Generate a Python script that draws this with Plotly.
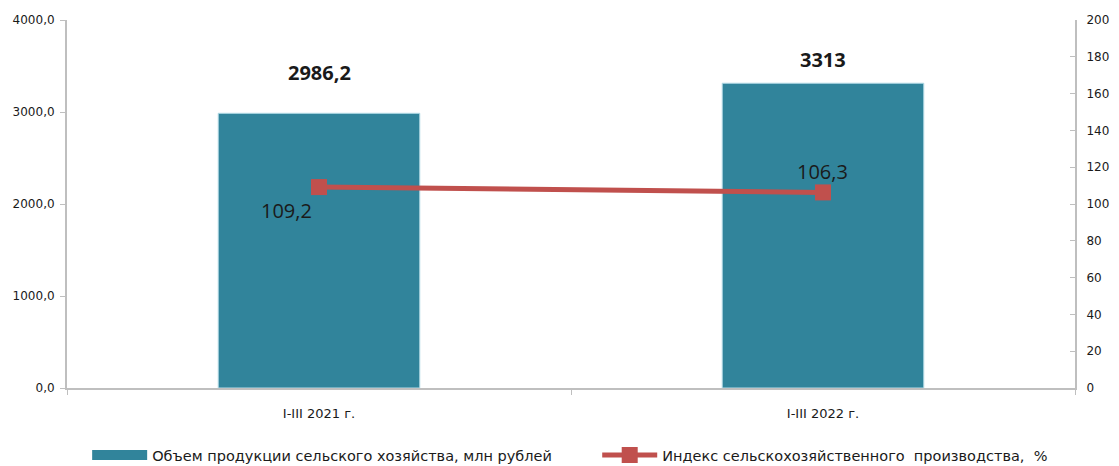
import plotly.graph_objects as go

categories = ["I-III 2021 г.", "I-III 2022 г."]
volume = [2986.2, 3313.0]
volume_labels = ["2986,2", "3313"]
index_vals = [109.2, 106.3]
index_labels = ["109,2", "106,3"]
left_ticks = [0, 1000, 2000, 3000, 4000]
right_ticks = [0, 20, 40, 60, 80, 100, 120, 140, 160, 180, 200]

bar_name = "Объем продукции сельского хозяйства, млн рублей"
line_name = "Индекс сельскохозяйственного  производства,  %"

BAR_COLOR = "#31849B"
LINE_COLOR = "#C0504D"
TEXT = "#1a1a1a"
AXIS = "#bfbfbf"

fig = go.Figure()
fig.add_trace(go.Bar(
    x=categories, y=volume, name=bar_name, showlegend=False,
    marker=dict(color=BAR_COLOR, line=dict(color="#b7dde8", width=1)),
    width=0.4,
))
# legend proxy for the bar series (wide rectangle swatch)
fig.add_trace(go.Scatter(
    x=[None], y=[None], name=bar_name, mode="lines", legend="legend",
    line=dict(color=BAR_COLOR, width=10),
))
fig.add_trace(go.Scatter(
    x=categories, y=index_vals, name=line_name, yaxis="y2", legend="legend2",
    mode="lines+markers",
    line=dict(color=LINE_COLOR, width=5),
    marker=dict(symbol="square", size=16, color=LINE_COLOR),
))

annotations = []
bar_shifts = [41, 24]
for c, v, t, s in zip(categories, volume, volume_labels, bar_shifts):
    annotations.append(dict(x=c, y=v, xref="x", yref="y", text="<b>" + t + "</b>",
                            showarrow=False, yshift=s,
                            font=dict(family="Open Sans", size=20, color=TEXT)))
line_offsets = [(-33, -23), (-1, 21)]
for c, v, t, (dx, dy) in zip(categories, index_vals, index_labels, line_offsets):
    annotations.append(dict(x=c, y=v, xref="x", yref="y2", text=t, showarrow=False,
                            xshift=dx, yshift=dy,
                            font=dict(family="Open Sans", size=20, color=TEXT)))

tick_font = dict(family="DejaVu Sans", size=12, color=TEXT)
legend_font = dict(family="DejaVu Sans", size=14.5, color=TEXT)

fig.update_layout(
    width=1119, height=466,
    margin=dict(l=59, r=52, t=12, b=86, autoexpand=False),
    paper_bgcolor="white", plot_bgcolor="white",
    showlegend=True,
    legend=dict(orientation="h", x=0.02, xanchor="left", y=-0.182, yanchor="middle",
                font=legend_font, itemwidth=55, bgcolor="rgba(0,0,0,0)"),
    legend2=dict(orientation="h", x=0.526, xanchor="left", y=-0.182, yanchor="middle",
                 font=legend_font, itemwidth=55, bgcolor="rgba(0,0,0,0)"),
    xaxis=dict(showline=True, linecolor=AXIS, linewidth=2, ticks="outside",
               tickson="boundaries", tickcolor=AXIS, ticklen=5, tickwidth=1,
               tickfont=dict(family="DejaVu Sans", size=13, color=TEXT),
               ticklabelstandoff=12, showgrid=False, automargin=False),
    yaxis=dict(range=[0, 4000], tickvals=left_ticks,
               ticktext=[f"{v:.1f}".replace(".", ",") for v in left_ticks],
               showline=True, linecolor=AXIS, linewidth=2, ticks="outside",
               tickcolor=AXIS, ticklen=5, showgrid=False, zeroline=False,
               tickfont=tick_font, ticklabelstandoff=3, automargin=False),
    yaxis2=dict(range=[0, 200], tickvals=right_ticks, overlaying="y", side="right",
                showline=True, linecolor=AXIS, linewidth=2, ticks="inside",
                tickcolor=AXIS, ticklen=5, showgrid=False, zeroline=False,
                tickfont=tick_font, ticklabelstandoff=7, automargin=False),
    annotations=annotations,
)

fig.write_html("out.html")
